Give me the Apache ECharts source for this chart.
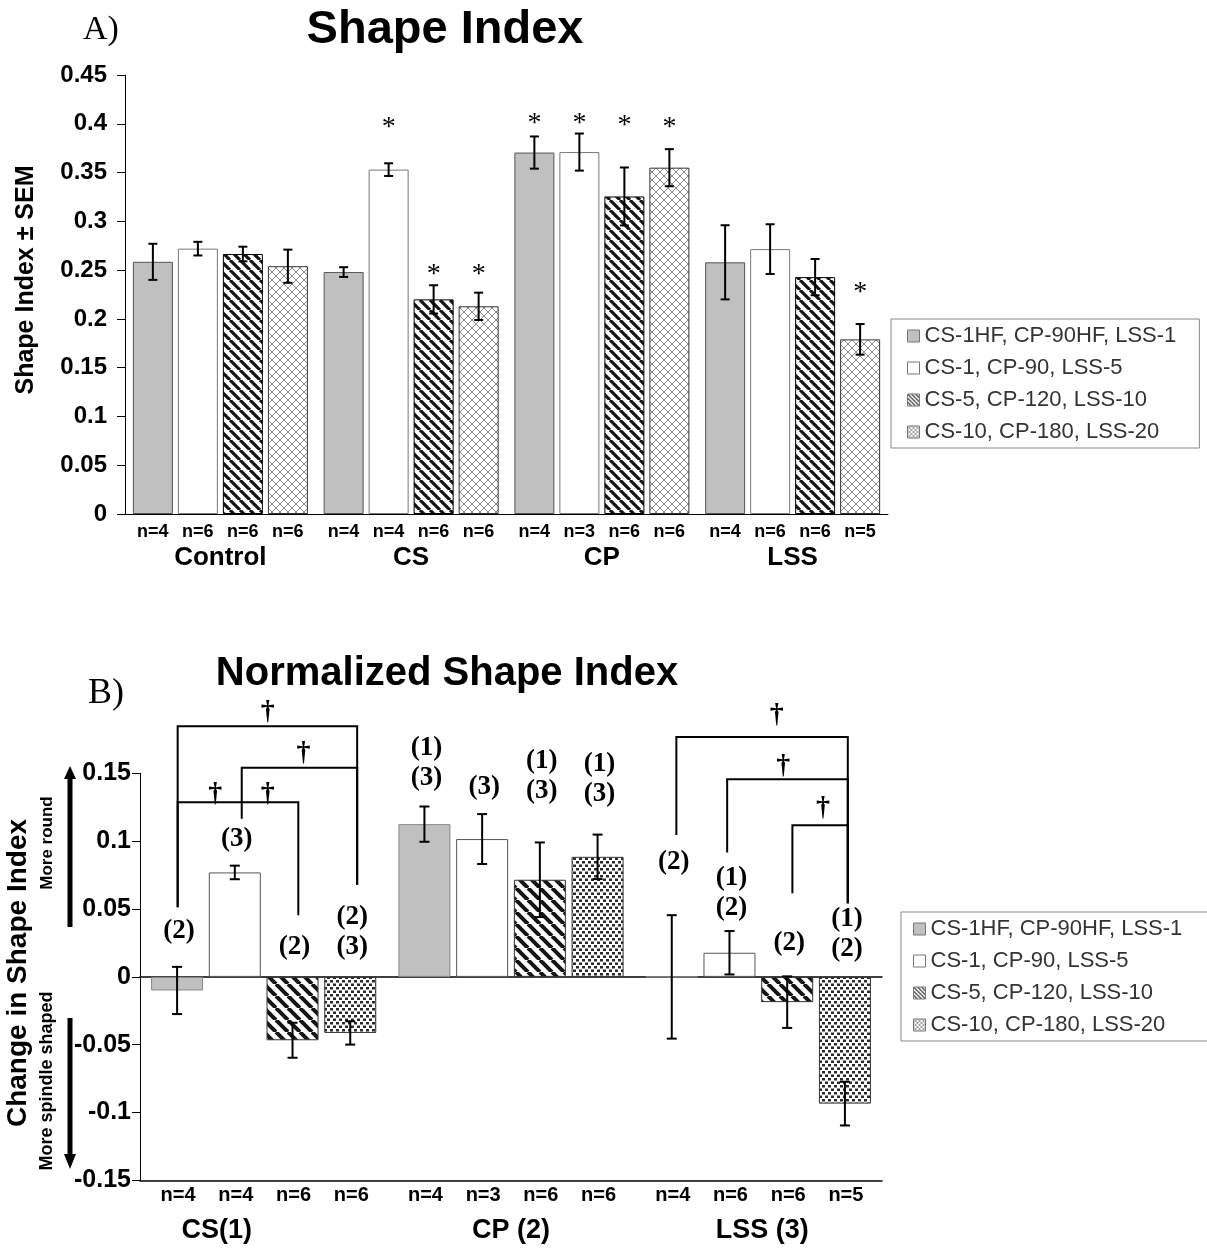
<!DOCTYPE html>
<html><head><meta charset="utf-8">
<script src="https://cdn.jsdelivr.net/npm/echarts@6/dist/echarts.min.js"></script>
<style>html,body{margin:0;padding:0;background:#fff}#c{width:1207px;height:1258px}</style>
</head><body><div id="c"></div>
<script>
// ================= DATA =================
const seriesNames = ['CS-1HF, CP-90HF, LSS-1', 'CS-1, CP-90, LSS-5', 'CS-5, CP-120, LSS-10', 'CS-10, CP-180, LSS-20'];

// --- A) Shape Index ---
const groupsA = ['Control', 'CS', 'CP', 'LSS'];
const yLabelsA = ['0', '0.05', '0.1', '0.15', '0.2', '0.25', '0.3', '0.35', '0.4', '0.45'];
const meanS1A = [0.2585, 0.248, 0.3705, 0.258];
const meanS2A = [0.272, 0.353, 0.371, 0.2715];
const meanS3A = [0.2665, 0.220, 0.3255, 0.2428];
const meanS4A = [0.254, 0.2129, 0.355, 0.179];
const semS1A = [0.0185, 0.005, 0.0165, 0.038];
const semS2A = [0.007, 0.0065, 0.019, 0.0255];
const semS3A = [0.0075, 0.0145, 0.0297, 0.0186];
const semS4A = [0.017, 0.014, 0.019, 0.0157];
const nA = [[4, 6, 6, 6], [4, 4, 6, 6], [4, 3, 6, 6], [4, 6, 6, 5]]; // per group, per bar
const starsA = [[1, 1, 0.401], [1, 2, 0.250], [1, 3, 0.250], [2, 0, 0.405], [2, 1, 0.405], [2, 2, 0.403], [2, 3, 0.401], [3, 3, 0.232]]; // [group, bar, y]

// --- B) Normalized Shape Index ---
const groupsB = ['CS(1)', 'CP (2)', 'LSS (3)'];
const yLabelsB = ['-0.15', '-0.1', '-0.05', '0', '0.05', '0.1', '0.15'];
const meanS1B = [-0.010, 0.1126, 0.000];
const meanS2B = [0.077, 0.1016, 0.0178];
const meanS3B = [-0.0467, 0.0716, -0.0186];
const meanS4B = [-0.0413, 0.0885, -0.0934];
const semS1B = [0.0174, 0.013, 0.0455];
const semS2B = [0.005, 0.0184, 0.016];
const semS3B = [0.0129, 0.0275, 0.019];
const semS4B = [0.0086, 0.0164, 0.0161];
const nB = [[4, 4, 6, 6], [4, 3, 6, 6], [4, 6, 6, 5]];
// [group, bar, label lines, y of lowest line]
const annotB = [
  [0, 0, ['(2)'], 0.0321], [0, 1, ['(3)'], 0.1004], [0, 2, ['(2)'], 0.0208], [0, 3, ['(2)', '(3)'], 0.0208],
  [1, 0, ['(1)', '(3)'], 0.1452], [1, 1, ['(3)'], 0.1384], [1, 2, ['(1)', '(3)'], 0.1355], [1, 3, ['(1)', '(3)'], 0.1331],
  [2, 0, ['(2)'], 0.0829], [2, 1, ['(1)', '(2)'], 0.049], [2, 2, ['(2)'], 0.0236], [2, 3, ['(1)', '(2)'], 0.019]
];
// significance brackets: [group, fromBar, toBar, topY, fromEndY, toEndY]
const bracketsB = [
  [0, 0.01, 3.12, 0.1848, 0.0514, 0.068],
  [0, 1.12, 3.12, 0.1541, 0.1165, 0.068],
  [0, 0.01, 2.10, 0.1287, 0.0514, 0.0455],
  [2, 0.08, 3.05, 0.1769, 0.1046, 0.0543],
  [2, 0.96, 3.05, 0.1457, 0.0917, 0.0543],
  [2, 2.09, 3.05, 0.1118, 0.0616, 0.0543]
];
// daggers: [group, barPos, y]
const daggersB = [[0, 1.57, 0.1950], [0, 2.19, 0.1648], [0, 0.66, 0.1346], [0, 1.57, 0.1346],
  [2, 1.82, 0.1924], [2, 1.93, 0.1547], [2, 2.62, 0.1241]];

// ================= STYLE / LAYOUT =================
const FONT = '"Liberation Sans", Arial, sans-serif';
const SERIF = '"Liberation Serif", "Times New Roman", serif';
const LA = {bw: 40, gap: 0.125, cap: 4.5};
const LB = {bw: 52, gap: 0.11, cap: 5};
const groupLabelShiftB = [-47, 0, 4];

function canvas(w, h) { const c = document.createElement('canvas'); c.width = w; c.height = h; const x = c.getContext('2d'); x.fillStyle = '#fff'; x.fillRect(0, 0, w, h); return [c, x]; }
function stripes(P, w, color) {
  const [c, x] = canvas(P, P);
  x.strokeStyle = color; x.lineWidth = w;
  x.beginPath();
  for (const k of [-1, 0, 1]) { x.moveTo(k * P, 0); x.lineTo(k * P + P, P); }
  x.stroke();
  return {image: c, repeat: 'repeat'};
}
function hatch(P, w, color) {
  const [c, x] = canvas(P, P);
  x.strokeStyle = color; x.lineWidth = w;
  x.beginPath();
  for (const k of [-1, 0, 1]) { x.moveTo(k * P, 0); x.lineTo(k * P + P, P); x.moveTo(k * P, P); x.lineTo(k * P + P, 0); }
  x.stroke();
  return {image: c, repeat: 'repeat'};
}
function dots() {
  const [c, x] = canvas(6, 7);
  x.fillStyle = '#2a2a2a';
  x.fillRect(0, 0, 3, 2.5); x.fillRect(3, 3.5, 3, 2.5);
  return {image: c, repeat: 'repeat'};
}

const stylesA = [
  {color: '#c0c0c0', borderColor: '#555', borderWidth: 1},
  {color: '#ffffff', borderColor: '#777', borderWidth: 1},
  {color: stripes(10, 3.2, '#151515'), borderColor: '#000', borderWidth: 1},
  {color: hatch(8, 1, '#8c8c8c'), borderColor: '#333', borderWidth: 1}
];
const stylesB = [
  {color: '#c0c0c0', borderColor: '#888', borderWidth: 1},
  {color: '#ffffff', borderColor: '#555', borderWidth: 1},
  {color: stripes(12, 4, '#151515'), borderColor: '#333', borderWidth: 1},
  {color: dots(), borderColor: '#333', borderWidth: 1}
];
const legendIcons = [
  {color: '#c0c0c0', borderColor: '#777', borderWidth: 1},
  {color: '#ffffff', borderColor: '#777', borderWidth: 1},
  {color: stripes(4, 1.2, '#222'), borderColor: '#777', borderWidth: 1},
  {color: hatch(4, 0.8, '#888'), borderColor: '#777', borderWidth: 1}
];

function bx(api, L, g, b) { return api.coord([g, 0])[0] + (b - 1.5) * L.bw * (1 + L.gap); }
function txt(x, y, text, font, extra) {
  return {type: 'text', x: x, y: y, silent: true, style: Object.assign({text: text, font: font, fill: '#000', textAlign: 'center', textVerticalAlign: 'middle', align: 'center', verticalAlign: 'middle'}, extra || {})};
}

const meansA = [meanS1A, meanS2A, meanS3A, meanS4A], semsA = [semS1A, semS2A, semS3A, semS4A];
const meansB = [meanS1B, meanS2B, meanS3B, meanS4B], semsB = [semS1B, semS2B, semS3B, semS4B];
const errA = [], errB = [];
meansA.forEach((row, i) => row.forEach((v, g) => errA.push([g, i, v, semsA[i][g]])));
meansB.forEach((row, i) => row.forEach((v, g) => errB.push([g, i, v, semsB[i][g]])));
const nListA = [], nListB = [];
nA.forEach((row, g) => row.forEach((n, b) => nListA.push([g, b, n])));
nB.forEach((row, g) => row.forEach((n, b) => nListB.push([g, b, n])));

function errRender(L, list) {
  return function (params, api) {
    const d = list[params.dataIndex];
    const g = d[0], b = d[1], v = d[2], e = d[3];
    const x = bx(api, L, g, b);
    const yt = api.coord([g, v + e])[1], yb = api.coord([g, v - e])[1];
    const st = {stroke: '#000', lineWidth: 2};
    return {type: 'group', children: [
      {type: 'line', shape: {x1: x, y1: yt, x2: x, y2: yb}, style: st},
      {type: 'line', shape: {x1: x - L.cap, y1: yt, x2: x + L.cap, y2: yt}, style: st},
      {type: 'line', shape: {x1: x - L.cap, y1: yb, x2: x + L.cap, y2: yb}, style: st}
    ]};
  };
}
function custom(xi, list, render, z) {
  return {type: 'custom', xAxisIndex: xi, yAxisIndex: xi, silent: true, clip: false, z: z || 5,
    data: list.map(d => [d[0], 0]), renderItem: render};
}

const legendData = seriesNames.map((n, i) => ({name: n, itemStyle: legendIcons[i]}));
const legendBase = {orient: 'vertical', itemGap: 10, itemWidth: 12, itemHeight: 12, icon: 'rect', selectedMode: false,
  borderColor: '#888', borderWidth: 1, textStyle: {fontSize: 22, fontFamily: FONT, color: '#333', lineHeight: 22}, data: legendData};

const axisBlack = {lineStyle: {color: '#000', width: 1}};
const option = {
  animation: false,
  backgroundColor: '#fff',
  grid: [
    {left: 125, top: 75, width: 763, height: 439},
    {left: 140, top: 773.4, width: 742, height: 407}
  ],
  legend: [
    Object.assign({}, legendBase, {left: 891, top: 319, padding: [6, 23, 5, 16]}),
    Object.assign({}, legendBase, {left: 901, top: 912, padding: [6, 40, 5, 12]})
  ],
  xAxis: [
    {gridIndex: 0, type: 'category', data: groupsA, axisLine: axisBlack,
      axisTick: {length: 9, lineStyle: {color: '#000'}},
      axisLabel: {margin: 31, fontSize: 26, fontWeight: 'bold', fontFamily: FONT, color: '#000'}},
    {gridIndex: 1, type: 'category', data: groupsB, axisLine: {onZero: true, lineStyle: {color: '#000', width: 1.5}},
      axisTick: {length: 8, lineStyle: {color: '#000'}}, axisLabel: {show: false}},
    {gridIndex: 1, type: 'category', data: groupsB, position: 'bottom', axisLine: {onZero: false, lineStyle: {color: '#000', width: 1.5}},
      axisTick: {show: false}, axisLabel: {show: false}}
  ],
  yAxis: [
    {gridIndex: 0, type: 'value', min: 0, max: 0.45, interval: 0.05, splitLine: {show: false},
      axisLine: {show: true, lineStyle: {color: '#000'}}, axisTick: {show: true, length: 8, lineStyle: {color: '#000'}},
      axisLabel: {margin: 18, fontSize: 24, fontWeight: 'bold', fontFamily: FONT, color: '#000',
        formatter: v => yLabelsA[Math.round(v / 0.05)]}},
    {gridIndex: 1, type: 'value', min: -0.15, max: 0.15, interval: 0.05, splitLine: {show: false},
      axisLine: {show: true, onZero: false, lineStyle: {color: '#000'}}, axisTick: {show: true, length: 8, lineStyle: {color: '#000'}},
      axisLabel: {margin: 9, fontSize: 25, fontWeight: 'bold', fontFamily: FONT, color: '#000',
        formatter: v => yLabelsB[Math.round((v + 0.15) / 0.05)]}}
  ],
  series: [],
  graphic: [
    txt(445, 30, 'Shape Index', 'bold 47px ' + FONT),
    txt(83, 30, 'A)', '34px ' + SERIF, {textAlign: 'left', align: 'left'}),
    txt(447, 674, 'Normalized Shape Index', 'bold 40px ' + FONT),
    txt(88, 694, 'B)', '36px ' + SERIF, {textAlign: 'left', align: 'left'}),
    Object.assign(txt(26, 280, 'Shape Index \u00b1 SEM', 'bold 25px ' + FONT), {rotation: Math.PI / 2}),
    Object.assign(txt(18, 973, 'Change in Shape Index', 'bold 28px ' + FONT), {rotation: Math.PI / 2}),
    Object.assign(txt(47, 843, 'More round', 'bold 17px ' + FONT), {rotation: Math.PI / 2}),
    Object.assign(txt(47, 1081, 'More spindle shaped', 'bold 18px ' + FONT), {rotation: Math.PI / 2}),
    {type: 'line', silent: true, shape: {x1: 70, y1: 927, x2: 70, y2: 776}, style: {stroke: '#000', lineWidth: 5}},
    {type: 'polygon', silent: true, shape: {points: [[64, 779], [76, 779], [70, 766]]}, style: {fill: '#000'}},
    {type: 'line', silent: true, shape: {x1: 70, y1: 1018, x2: 70, y2: 1157}, style: {stroke: '#000', lineWidth: 5}},
    {type: 'polygon', silent: true, shape: {points: [[64, 1154], [76, 1154], [70, 1169]]}, style: {fill: '#000'}}
  ]
};

// bars
for (let i = 0; i < 4; i++) {
  option.series.push({type: 'bar', name: seriesNames[i], xAxisIndex: 0, yAxisIndex: 0, data: meansA[i],
    barWidth: LA.bw, barGap: (LA.gap * 100) + '%', itemStyle: stylesA[i], emphasis: {disabled: true}});
}
for (let i = 0; i < 4; i++) {
  option.series.push({type: 'bar', name: seriesNames[i], xAxisIndex: 1, yAxisIndex: 1, data: meansB[i],
    barWidth: LB.bw, barGap: (LB.gap * 100) + '%', itemStyle: stylesB[i], emphasis: {disabled: true}});
}
// error bars
option.series.push(custom(0, errA, errRender(LA, errA), 6));
option.series.push(custom(1, errB, errRender(LB, errB), 6));
// asterisks
option.series.push(custom(0, starsA, function (p, api) {
  const d = starsA[p.dataIndex];
  return txt(bx(api, LA, d[0], d[1]), api.coord([d[0], d[2]])[1] + 5, '*', '28px ' + SERIF);
}));
// n labels
option.series.push(custom(0, nListA, function (p, api) {
  const d = nListA[p.dataIndex];
  return txt(bx(api, LA, d[0], d[1]), api.coord([d[0], 0])[1] + 18, 'n=' + d[2], 'bold 18px ' + FONT);
}));
option.series.push(custom(1, nListB, function (p, api) {
  const d = nListB[p.dataIndex];
  return txt(bx(api, LB, d[0], d[1]) + 1, api.coord([d[0], -0.15])[1] + 15, 'n=' + d[2], 'bold 20px ' + FONT);
}));
// group labels bottom
option.series.push(custom(1, groupsB.map((g, i) => [i]), function (p, api) {
  const i = p.dataIndex;
  return txt(api.coord([i, -0.15])[0] + groupLabelShiftB[i], api.coord([i, -0.15])[1] + 50, groupsB[i], 'bold 27px ' + FONT);
}));
// annotations
option.series.push(custom(1, annotB, function (p, api) {
  const d = annotB[p.dataIndex];
  const x = bx(api, LB, d[0], d[1]) + 2;
  const y0 = api.coord([d[0], d[3]])[1] - 2;
  const lines = d[2];
  return {type: 'group', children: lines.map((t, k) => txt(x, y0 - (lines.length - 1 - k) * 30, t, 'bold 27px ' + SERIF))};
}));
// brackets
option.series.push(custom(1, bracketsB, function (p, api) {
  const d = bracketsB[p.dataIndex];
  const g = d[0];
  const xf = bx(api, LB, g, d[1]), xt = bx(api, LB, g, d[2]);
  const yT = api.coord([g, d[3]])[1], yF = api.coord([g, d[4]])[1], yE = api.coord([g, d[5]])[1];
  return {type: 'polyline', shape: {points: [[xf, yF], [xf, yT], [xt, yT], [xt, yE]]}, style: {stroke: '#000', lineWidth: 2, fill: null}};
}));
// daggers
option.series.push(custom(1, daggersB, function (p, api) {
  const d = daggersB[p.dataIndex];
  return txt(bx(api, LB, d[0], d[1]), api.coord([d[0], d[2]])[1] - 1, '\u2020', 'bold 28px ' + SERIF);
}));

const chart = echarts.init(document.getElementById('c'), null, {renderer: 'canvas'});
chart.setOption(option);
</script></body></html>
